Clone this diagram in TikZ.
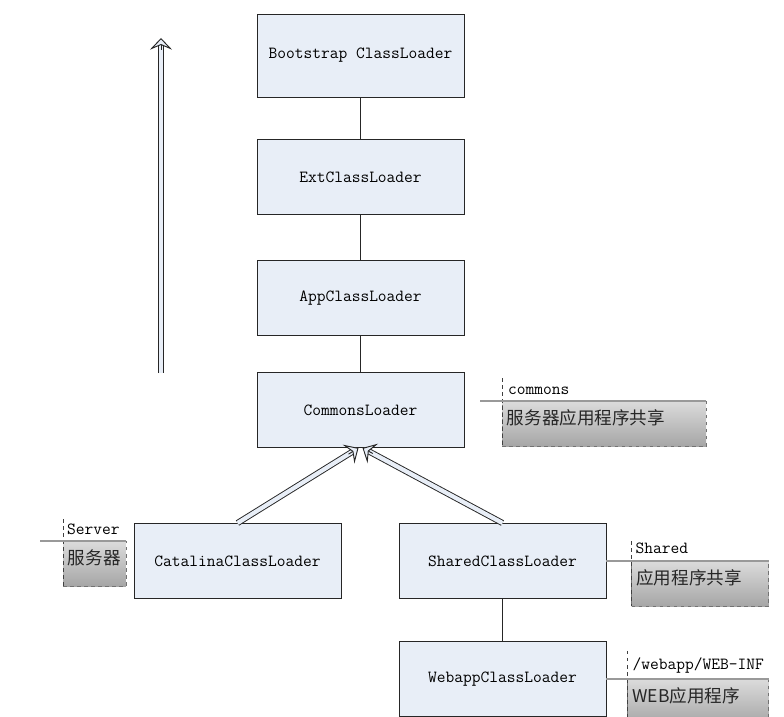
\documentclass[tikz,border=0pt]{standalone}
\usepackage{fontspec}
\newfontfamily\cjk{Noto Sans CJK SC}
\usetikzlibrary{arrows.meta, positioning, calc}
\definecolor{loaderfill}{HTML}{E8EEF7}
\tikzset{
  loader/.style={rectangle, minimum width=6.21cm, minimum height=2.25cm,
    draw=black!85, line width=0.8pt, fill=loaderfill, text centered,
    font=\ttfamily\fontsize{14.5}{17}\selectfont},
  link/.style={draw=black!85, line width=0.8pt},
  delegate/.style={draw=black!85, double=loaderfill, double distance=3.6pt,
    line width=0.8pt, shorten >=6pt},
  delegatehead/.style={draw=black!85, line width=0.8pt,
    -{Stealth[open, length=10pt, width=19pt, inset=4pt, fill=loaderfill]}},
  notebox/.style={rectangle, anchor=north west, text width=#1, align=left,
    inner xsep=0.14cm, inner ysep=0pt, text height=0.7cm, text depth=0.65cm,
    draw=black!55, dashed, top color=gray!28, bottom color=gray!70,
    text=black!85, font=\cjk\fontsize{15}{18}\selectfont},
  notelabel/.style={anchor=base west, inner sep=0pt,
    font=\ttfamily\fontsize{14.5}{17}\selectfont},
  notebar/.style={draw=gray!80, line width=2.2pt},
  notecut/.style={draw=black!75, dashed, line width=0.6pt}
}
\begin{document}
\begin{tikzpicture}
\useasboundingbox (0,0) rectangle (23.52,-21.51);

% loader chain
\node (boot)     [loader, minimum height=2.49cm] at (10.815,-1.665) {Bootstrap ClassLoader};
\node (ext)      [loader, below=1.26cm of boot]    {ExtClassLoader};
\node (app)      [loader, below=1.34cm of ext]     {AppClassLoader};
\node (commons)  [loader, below=1.08cm of app]     {CommonsLoader};
\node (catalina) [loader] at (7.125,-16.83)        {CatalinaClassLoader};
\node (shared)   [loader] at (15.075,-16.83)       {SharedClassLoader};
\node (webapp)   [loader, below=1.26cm of shared]  {WebappClassLoader};

\draw [link] (boot)   -- (ext);
\draw [link] (ext)    -- (app);
\draw [link] (app)    -- (commons);
\draw [link] (shared) -- (webapp);

% delegation to the common parent
\coordinate (catjoin)    at ($(commons.south)+(-0.06,0)$);
\coordinate (sharedjoin) at ($(commons.south)+(0.06,0)$);
\draw [delegate]     (catalina.north) -- (catjoin);
\draw [delegatehead] ($(catjoin)!10pt!(catalina.north)$) -- (catjoin);
\draw [delegate]     (shared.north) -- (sharedjoin);
\draw [delegatehead] ($(sharedjoin)!10pt!(shared.north)$) -- (sharedjoin);

% delegation direction
\coordinate (risebot) at (4.83,-11.19);
\coordinate (risetop) at (4.83,-1.14);
\draw [delegate]     (risebot) -- (risetop);
\draw [delegatehead] ($(risetop)!10pt!(risebot)$) -- (risetop);

% notes
\node (commonsnote) [notebox=5.84cm] at (15.06,-12.03) {服务器应用程序共享};
\node (commonstag)  [notelabel] at ($(commonsnote.north west)+(0.18,0.21)$) {commons};
\coordinate (commonsbar) at ($(commonsnote.north west)+(-0.66,0)$);
\draw [notecut] ($(commonsnote.north west)+(0,0.69)$) -- (commonsnote.south west);
\draw [notebar] (commonsbar) -- (commonsnote.north east);

\node (servernote) [notebox=1.6cm] at (1.89,-16.23) {服务器};
\node (servertag)  [notelabel] at ($(servernote.north west)+(0.12,0.21)$) {Server};
\coordinate (serverbar) at ($(servernote.north west)+(-0.69,0)$);
\draw [notecut] ($(servernote.north west)+(0,0.66)$) -- (servernote.south west);
\draw [notebar] (serverbar) -- (servernote.north east);

\node (sharednote) [notebox=3.83cm] at ($(shared.east)+(0.75,0)$) {应用程序共享};
\node (sharedtag)  [notelabel] at ($(sharednote.north west)+(0.12,0.24)$) {Shared};
\draw [notecut] ($(sharednote.north west)+(0,0.6)$) -- (sharednote.south west);
\draw [notebar] (shared.east) -- (sharednote.north east);

\node (webappnote) [notebox=3.95cm] at ($(webapp.east)+(0.63,0)$) {WEB应用程序};
\node (webapptag)  [notelabel] at ($(webappnote.north west)+(0.15,0.27)$) {/webapp/WEB-INF};
\draw [notecut] ($(webappnote.north west)+(0,0.84)$) -- (webappnote.south west);
\draw [notebar] (webapp.east) -- (webappnote.north east);
\end{tikzpicture}
\end{document}
